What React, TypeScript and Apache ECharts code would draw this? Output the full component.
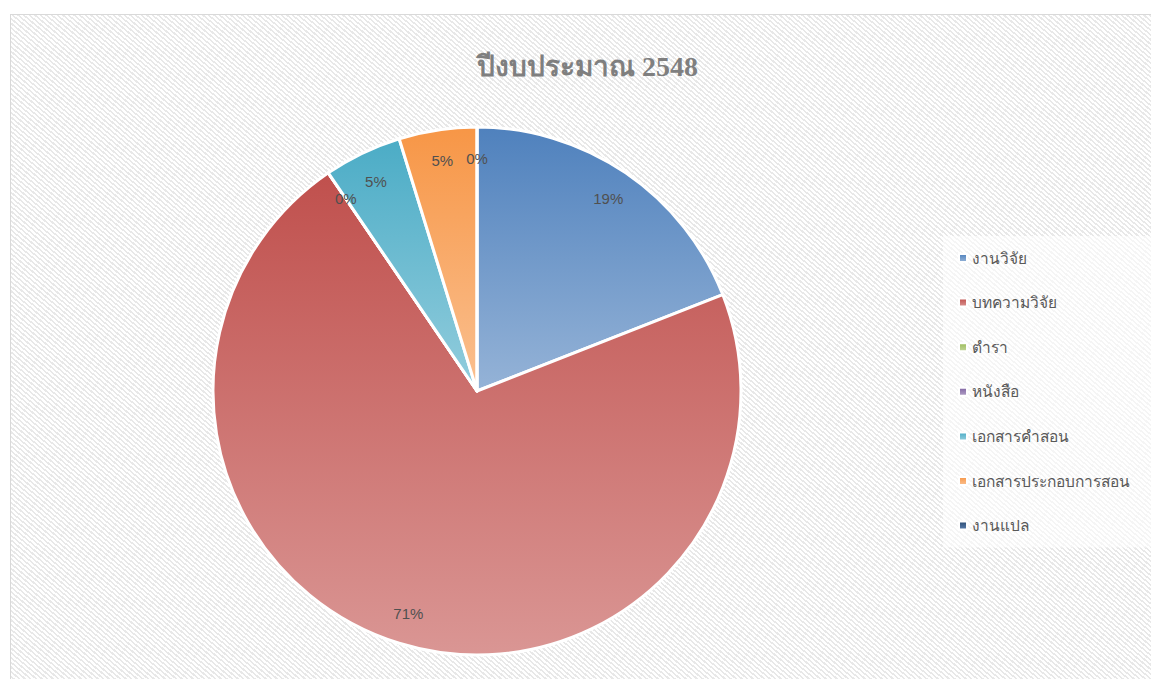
import React, { useEffect, useRef } from "react";
import * as echarts from "echarts";

const categories = ["งานวิจัย", "บทความวิจัย", "ตำรา", "หนังสือ", "เอกสารคำสอน", "เอกสารประกอบการสอน", "งานแปล"];
const values = [4, 15, 0, 0, 1, 1, 0];
const topColors = ["#4F81BD", "#C0504D", "#9BBB59", "#8064A2", "#4BACC6", "#F79646", "#2C4D75"];
const bottomColors = ["#95B3D7", "#DA9694", "#C3D69B", "#B3A2C7", "#93CDDD", "#FAC090", "#5C7FAE"];
const titleText = "ปีงบประมาณ 2548";

export default function App() {
  const ref = useRef<HTMLDivElement>(null);
  useEffect(() => {
    document.body.style.margin = "0";
    const chart = echarts.init(ref.current!, undefined, { renderer: "svg" });
    const data = categories.map((name, i) => ({
      name,
      value: values[i],
      itemStyle: {
        color: new echarts.graphic.LinearGradient(0, 0, 0, 1, [
          { offset: 0, color: topColors[i] },
          { offset: 1, color: bottomColors[i] },
        ]),
      },
    }));
    const labelData = categories.map((name, i) => ({ name, value: values[i] }));
    chart.setOption({
      animation: false,
      color: topColors,
      title: {
        text: titleText,
        left: 461,
        top: 32,
        textStyle: {
          fontFamily: "Liberation Serif, serif",
          fontSize: 28,
          fontWeight: "bold",
          color: "#7F7F7F",
        },
      },
      legend: {
        orient: "vertical",
        left: 932,
        top: 221,
        itemWidth: 8,
        itemHeight: 8,
        itemGap: 28.6,
        icon: "rect",
        padding: [14, 30, 14, 15],
        backgroundColor: "rgba(255,255,255,0.55)",
        textStyle: { fontSize: 15.5, color: "#595959", lineHeight: 16, fontFamily: "Liberation Sans, sans-serif" },
        data: categories,
      },
      series: [
        {
          type: "pie",
          center: [466, 376],
          radius: [0, 264],
          startAngle: 90,
          clockwise: true,
          silent: true,
          label: { show: false },
          labelLine: { show: false },
          itemStyle: { borderColor: "#ffffff", borderWidth: 3 },
          data,
        },
        {
          type: "pie",
          center: [466, 376],
          radius: [196, 264],
          startAngle: 90,
          clockwise: true,
          silent: true,
          legendHoverLink: false,
          itemStyle: { color: "rgba(0,0,0,0)", borderWidth: 0 },
          label: {
            show: true,
            position: "inside",
            color: "#505050",
            fontSize: 15,
            fontWeight: "normal",
            fontFamily: "Liberation Sans, sans-serif",
            formatter: (p: any) => Math.round(p.percent) + "%",
          },
          labelLine: { show: false },
          data: labelData,
        },
      ],
    });
    return () => chart.dispose();
  }, []);
  return (
    <div style={{ position: "relative", width: 1151, height: 679, overflow: "hidden", background: "#fff" }}>
      <div
        style={{
          position: "absolute",
          left: 10,
          top: 14,
          width: 1160,
          height: 700,
          border: "1px solid #d9d9d9",
          boxSizing: "border-box",
          background:
            "repeating-linear-gradient(40deg, #ffffff 0px, #ffffff 2px, #e8e8e8 2px, #e8e8e8 3.6px)",
        }}
      />
      <div ref={ref} style={{ position: "absolute", left: 11, top: 15, width: 1140, height: 664 }} />
    </div>
  );
}
